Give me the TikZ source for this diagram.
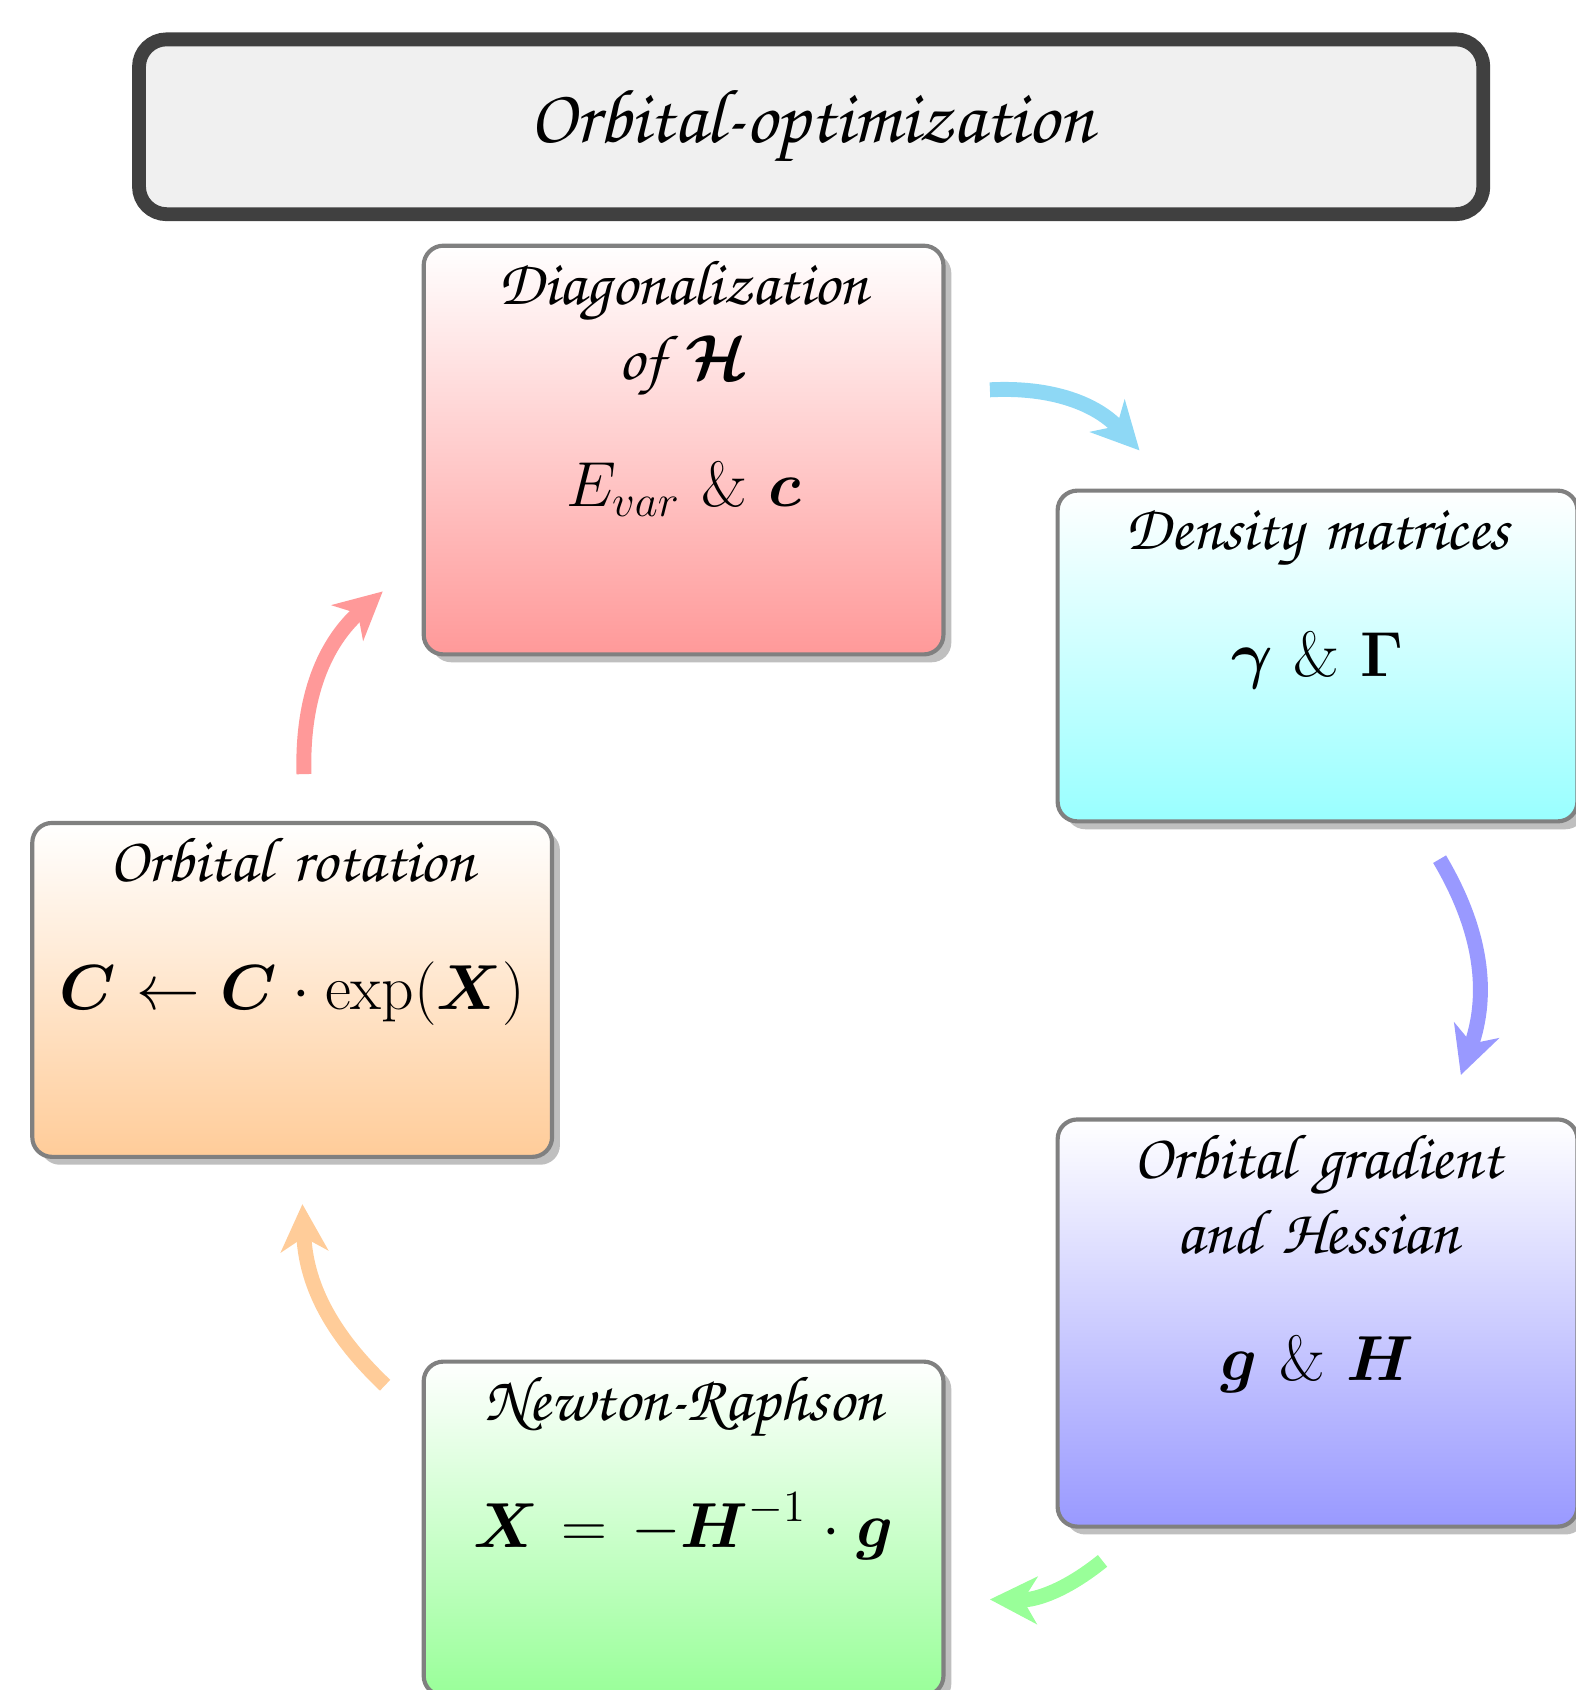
\RequirePackage{fix-cm}
\documentclass[tikz,border=0pt]{standalone}
\usepackage[T1,TU]{fontenc}
\usepackage{amsmath,amssymb}
\usepackage{xcolor}
\usepackage{tikz}
\usetikzlibrary{positioning, shadows, arrows.meta}
\newcommand{\chancery}{\usefont{T1}{pzc}{mb}{it}}
\definecolor{titlegray}{RGB}{64,64,64}
\definecolor{densarrow}{RGB}{142,216,245}
\tikzset{
  stage/.style={draw=gray, line width=1.5pt, rounded corners=0.25cm,
                minimum width=6.6cm,
                drop shadow={shadow xshift=0.1cm, shadow yshift=-0.1cm,
                             fill=black!25, opacity=1}},
  stagetext/.style={text width=6.4cm, align=center, anchor=base,
                    font={\fontsize{23}{27}\chancery}},
  flow/.style={line width=5.4pt, -{Stealth[length=17pt, width=17pt, inset=5pt]}}
}

\begin{document}
\begin{tikzpicture}
  \useasboundingbox (0,0) rectangle (20,-21.46);
  \node[draw=titlegray, line width=5pt, fill=black!6, rounded corners=0.35cm,
        minimum width=17.07cm, minimum height=2.22cm,
        font={\fontsize{27.7}{33}\chancery}] (title) at (10.30,-1.61) {Orbital-optimization};
  % boxes
  \node[stage, top color=white, bottom color=red!40, minimum height=5.19cm] (diag) at (8.68,-5.715) {};
  \node[stagetext] (diagtxt) at ([yshift=-0.775cm]diag.north)
    {Diagonalization\\ of $\boldsymbol{\mathcal{H}}$\\[19pt] $E_{var}$ $\&$ $\boldsymbol{c}$};
  \node[stage, top color=white, bottom color=cyan!40, minimum height=4.20cm] (dens) at (16.73,-8.33) {};
  \node[stagetext] (denstxt) at ([yshift=-0.775cm]dens.north)
    {Density matrices\\[19pt] $\boldsymbol{\gamma}\ \&\ \boldsymbol{\Gamma}$};
  \node[stage, top color=white, bottom color=blue!40, minimum height=5.17cm] (grad) at (16.73,-16.80) {};
  \node[stagetext] (gradtxt) at ([yshift=-0.775cm]grad.north)
    {Orbital gradient\\ and Hessian\\[19pt] $\boldsymbol{g}\ \&\ \boldsymbol{H}$};
  \node[stage, top color=white, bottom color=green!40, minimum height=4.24cm] (newton) at (8.68,-19.41) {};
  \node[stagetext] (newtontxt) at ([yshift=-0.775cm]newton.north)
    {Newton-Raphson\\[18pt] $\boldsymbol{X} = -\boldsymbol{H}^{-1}\cdot\boldsymbol{g}$};
  \node[stage, top color=white, bottom color=orange!40, minimum height=4.24cm] (rot) at (3.71,-12.57) {};
  \node[stagetext] (rottxt) at ([yshift=-0.775cm]rot.north)
    {Orbital rotation\\[19pt] $\boldsymbol{C}\leftarrow\boldsymbol{C}\cdot\exp(\boldsymbol{X})$};
  % arrows
  \coordinate (diag-out) at (12.57,-4.95);
  \coordinate (dens-in) at (14.47,-5.72);
  \coordinate (dens-out) at (18.28,-10.91);
  \coordinate (grad-in) at (18.55,-13.65);
  \coordinate (grad-out) at (14.00,-19.82);
  \coordinate (newton-in) at (12.57,-20.31);
  \coordinate (newton-out) at (4.89,-17.59);
  \coordinate (rot-in) at (3.84,-15.29);
  \coordinate (rot-out) at (3.86,-9.83);
  \coordinate (diag-in) at (4.86,-7.51);
  \draw[flow, densarrow] (diag-out) to[bend left=25] (dens-in);
  \draw[flow, blue!40] (dens-out) to[bend left=25] (grad-in);
  \draw[flow, green!40] (grad-out) to[bend left=20] (newton-in);
  \draw[flow, orange!40] (newton-out) to[bend left=22] (rot-in);
  \draw[flow, red!40] (rot-out) to[bend left=25] (diag-in);
\end{tikzpicture}
\end{document}
